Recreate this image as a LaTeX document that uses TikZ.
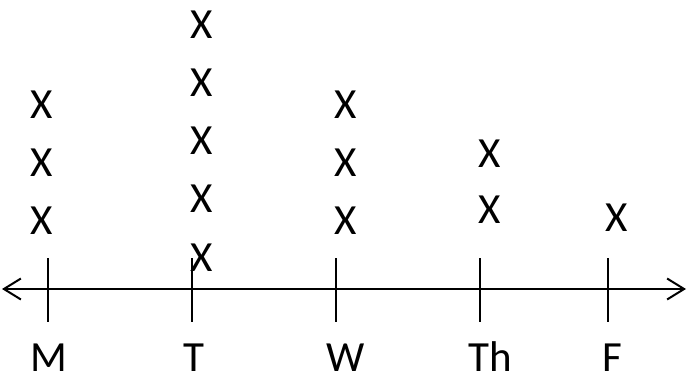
\documentclass[tikz,border=0pt]{standalone}
\usepackage{fontspec}
\setmainfont{Carlito}
\usetikzlibrary{arrows.meta}

\begin{document}
\begin{tikzpicture}[x=1pt,y=-1pt,line width=2.2pt,
	xmark/.style={inner sep=0pt,font=\fontsize{43}{43}\selectfont},
	day label/.style={inner sep=0pt,anchor=base,font=\fontsize{43}{43}\selectfont},
	>={Straight Barb[length=17pt,width=21pt,line width=2pt]}]
	\useasboundingbox (0,0) rectangle (688,380);

	% number line
	\coordinate (left) at (2,289);
	\coordinate (right) at (686,289);
	\draw[<->] (left) -- (right);

	% ticks and day labels
	\foreach \name/\x/\lx in {M/48/49, T/192/194, W/336/346, Th/480/490, F/608/612} {
		\coordinate (\name top) at (\x,258);
		\coordinate (\name bot) at (\x,322);
		\draw (\name top) -- (\name bot);
		\node[day label] (\name) at (\lx,371) {\name};
	}

	% marks
	\foreach \y [count=\i] in {221,163,105}
		\node[xmark] (xM\i) at (42,\y) {X};
	\foreach \y [count=\i] in {258,199,141,83,25}
		\node[xmark] (xT\i) at (202,\y) {X};
	\foreach \y [count=\i] in {221,163,105}
		\node[xmark] (xW\i) at (346,\y) {X};
	\foreach \y [count=\i] in {210,154}
		\node[xmark] (xTh\i) at (490,\y) {X};
	\node[xmark] (xF1) at (617,218) {X};
\end{tikzpicture}
\end{document}
